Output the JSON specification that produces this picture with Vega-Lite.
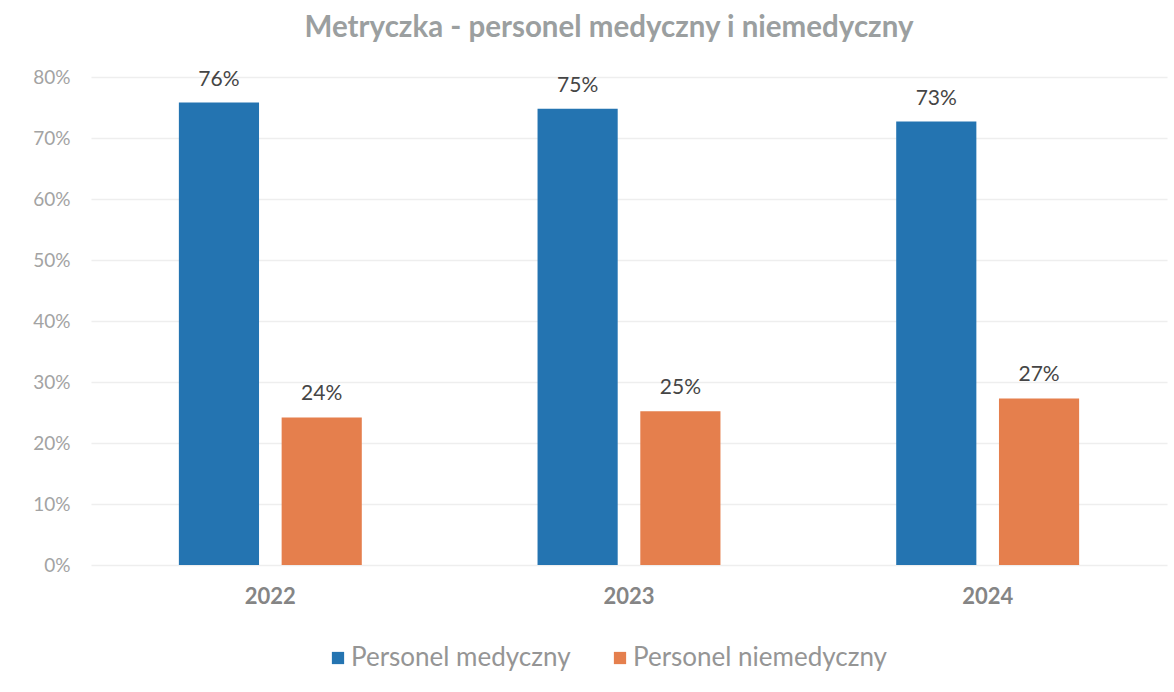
{
  "$schema": "https://vega.github.io/schema/vega-lite/v6.json",
  "autosize": {"type": "none"},
  "width": 1076,
  "height": 488,
  "padding": {"left": 91, "top": 77, "right": 7, "bottom": 127},
  "background": "white",
  "config": {
    "view": {"stroke": null},
    "font": "Lato"
  },
  "title": {
    "text": "Metryczka - personel medyczny i niemedyczny",
    "fontSize": 29.5,
    "fontWeight": "bold",
    "color": "#9b9fa0",
    "font": "Lato",
    "offset": 25,
    "dx": -20,
    "anchor": "middle"
  },
  "data": {
    "values": [
      {"rok": "2022", "grupa": "Personel medyczny", "udzial": 0.758},
      {"rok": "2022", "grupa": "Personel niemedyczny", "udzial": 0.242},
      {"rok": "2023", "grupa": "Personel medyczny", "udzial": 0.748},
      {"rok": "2023", "grupa": "Personel niemedyczny", "udzial": 0.252},
      {"rok": "2024", "grupa": "Personel medyczny", "udzial": 0.727},
      {"rok": "2024", "grupa": "Personel niemedyczny", "udzial": 0.273}
    ]
  },
  "encoding": {
    "x": {
      "field": "rok",
      "type": "nominal",
      "scale": {"paddingInner": 0.49, "paddingOuter": 0.245},
      "axis": {
        "title": null,
        "domain": false,
        "ticks": false,
        "labelAngle": 0,
        "labelFontSize": 22,
        "labelFontWeight": "bold",
        "labelColor": "#858585",
        "labelPadding": 21,
        "grid": false
      }
    },
    "xOffset": {
      "field": "grupa",
      "type": "nominal",
      "scale": {"paddingInner": 0.22, "paddingOuter": 0}
    },
    "y": {
      "field": "udzial",
      "type": "quantitative",
      "scale": {"domain": [0, 0.8], "nice": false},
      "axis": {
        "title": null,
        "values": [0, 0.1, 0.2, 0.3, 0.4, 0.5, 0.6, 0.7, 0.8],
        "format": ".0%",
        "domain": false,
        "ticks": false,
        "labelFontSize": 19,
        "labelColor": "#a3a3a3",
        "labelPadding": 21,
        "gridColor": "#eeeeee",
        "gridWidth": 1.5
      }
    }
  },
  "layer": [
    {
      "mark": {"type": "bar"},
      "encoding": {
        "color": {
          "field": "grupa",
          "type": "nominal",
          "scale": {
            "domain": ["Personel medyczny", "Personel niemedyczny"],
            "range": ["#2474b1", "#e57f4d"]
          },
          "legend": {
            "title": null,
            "orient": "none",
            "direction": "horizontal",
            "legendX": 234,
            "legendY": 568,
            "symbolType": "square",
            "symbolSize": 150,
            "symbolStrokeWidth": 0,
            "labelFontSize": 26,
            "labelLimit": 0,
            "labelColor": "#959595",
            "labelOffset": 0,
            "columnPadding": 36
          }
        }
      }
    },
    {
      "mark": {"type": "text", "baseline": "alphabetic", "dy": -17, "fontSize": 21, "color": "#454545"},
      "encoding": {
        "text": {"field": "udzial", "type": "quantitative", "format": ".0%"}
      }
    }
  ]
}
